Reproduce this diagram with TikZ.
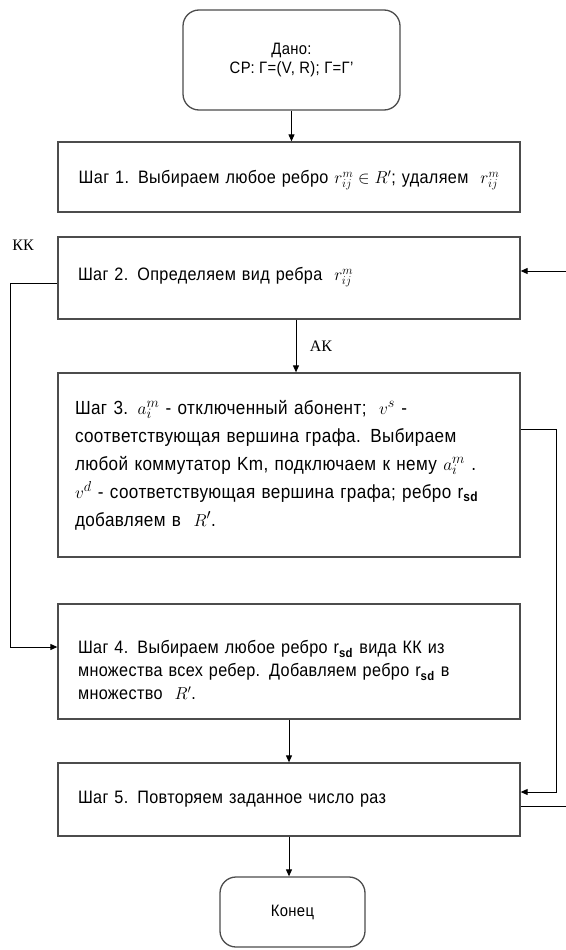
\documentclass[tikz,border=0pt]{standalone}
\usepackage{fontspec}
\setmainfont[FakeStretch=0.9,LetterSpace=2]{Liberation Sans}
\newfontfamily\lblfont{Liberation Serif}
\usetikzlibrary{arrows.meta}
\begin{document}
\begin{tikzpicture}[x=1pt,y=-1pt,
  boxline/.style={draw=black!70,line width=1.3pt},
  stepbox/.style={boxline,minimum width=462pt,text width=422pt,inner xsep=20pt,align=left,
    font=\fontsize{18}{27}\selectfont},
  termbox/.style={boxline,rounded corners=16pt,align=center,font=\fontsize{16.5}{19}\selectfont},
  conn/.style={draw=black,line width=1pt},
  arr/.style={conn,-{Triangle[length=7pt,width=6pt]}},
  lbl/.style={font=\lblfont\fontsize{16}{18}\selectfont,inner sep=0pt}]
\path[use as bounding box] (0,0) rectangle (565,950);

\node[termbox,minimum width=217pt,minimum height=100pt] (start) at (291.5,60) {Дано:\\ СР: Г=(V, R); Г=Г'};
\node[stepbox,minimum height=70pt,align=center] (s1) at (289,177)
  {\rule{0pt}{20pt}Шаг 1. Выбираем любое ребро $r_{ij}^{m}\in R'$; удаляем \ $r_{ij}^{m}$};
\node[stepbox,minimum height=82pt] (s2) at (289,278) {Шаг 2. Определяем вид ребра \ $r_{ij}^{m}$\rule[-8pt]{0pt}{8pt}};
\node[stepbox,minimum height=184pt,text width=428pt,inner xsep=17pt,font=\fontsize{19}{28}\selectfont] (s3) at (289,465)
  {Шаг 3. $a_i^m$ - отключенный абонент; \ $v^s$ -\\
   соответствующая вершина графа. Выбираем\\
   любой коммутатор Km, подключаем к нему $a_i^m$ .\\
   $v^d$ - соответствующая вершина графа; ребро r\textsubscript{\textbf{sd}}\\
   добавляем в \ $R'$.};
\node[stepbox,minimum height=115pt,font=\fontsize{18}{23}\selectfont] (s4) at (289,661.5)
  {\rule{0pt}{31pt}Шаг 4. Выбираем любое ребро r\textsubscript{\textbf{sd}} вида КК из\\
   множества всех ребер. Добавляем ребро r\textsubscript{\textbf{sd}} в\\
   множество \ $R'$.};
\node[stepbox,minimum height=73pt] (s5) at (289,799.5) {Шаг 5. Повторяем заданное число раз};
\node[termbox,minimum width=145pt,minimum height=70pt] (end) at (292.5,912) {Конец};

\node[lbl] (kk) at (23,245) {КК};
\node[lbl] (ak) at (321,346) {АК};

\draw[arr] (start.south) -- (start.south |- s1.north);
\draw[arr] ([xshift=7pt]s2.south) -- ([xshift=7pt]s3.north);
\draw[arr] (s4.south) -- (s5.north);
\draw[arr] (s5.south) -- (s5.south |- end.north);
\draw[arr] ([yshift=-5pt]s2.west) -- ++(-47,0) |- ([yshift=14.5pt]s4.west);
\draw[arr] ([yshift=36pt]s3.east) -- ++(36,0) |- ([yshift=7.5pt]s5.east);
\draw[arr] ([yshift=-6.5pt]s5.east) -- ++(52,0) |- ([yshift=7pt]s2.east);
\end{tikzpicture}
\end{document}
